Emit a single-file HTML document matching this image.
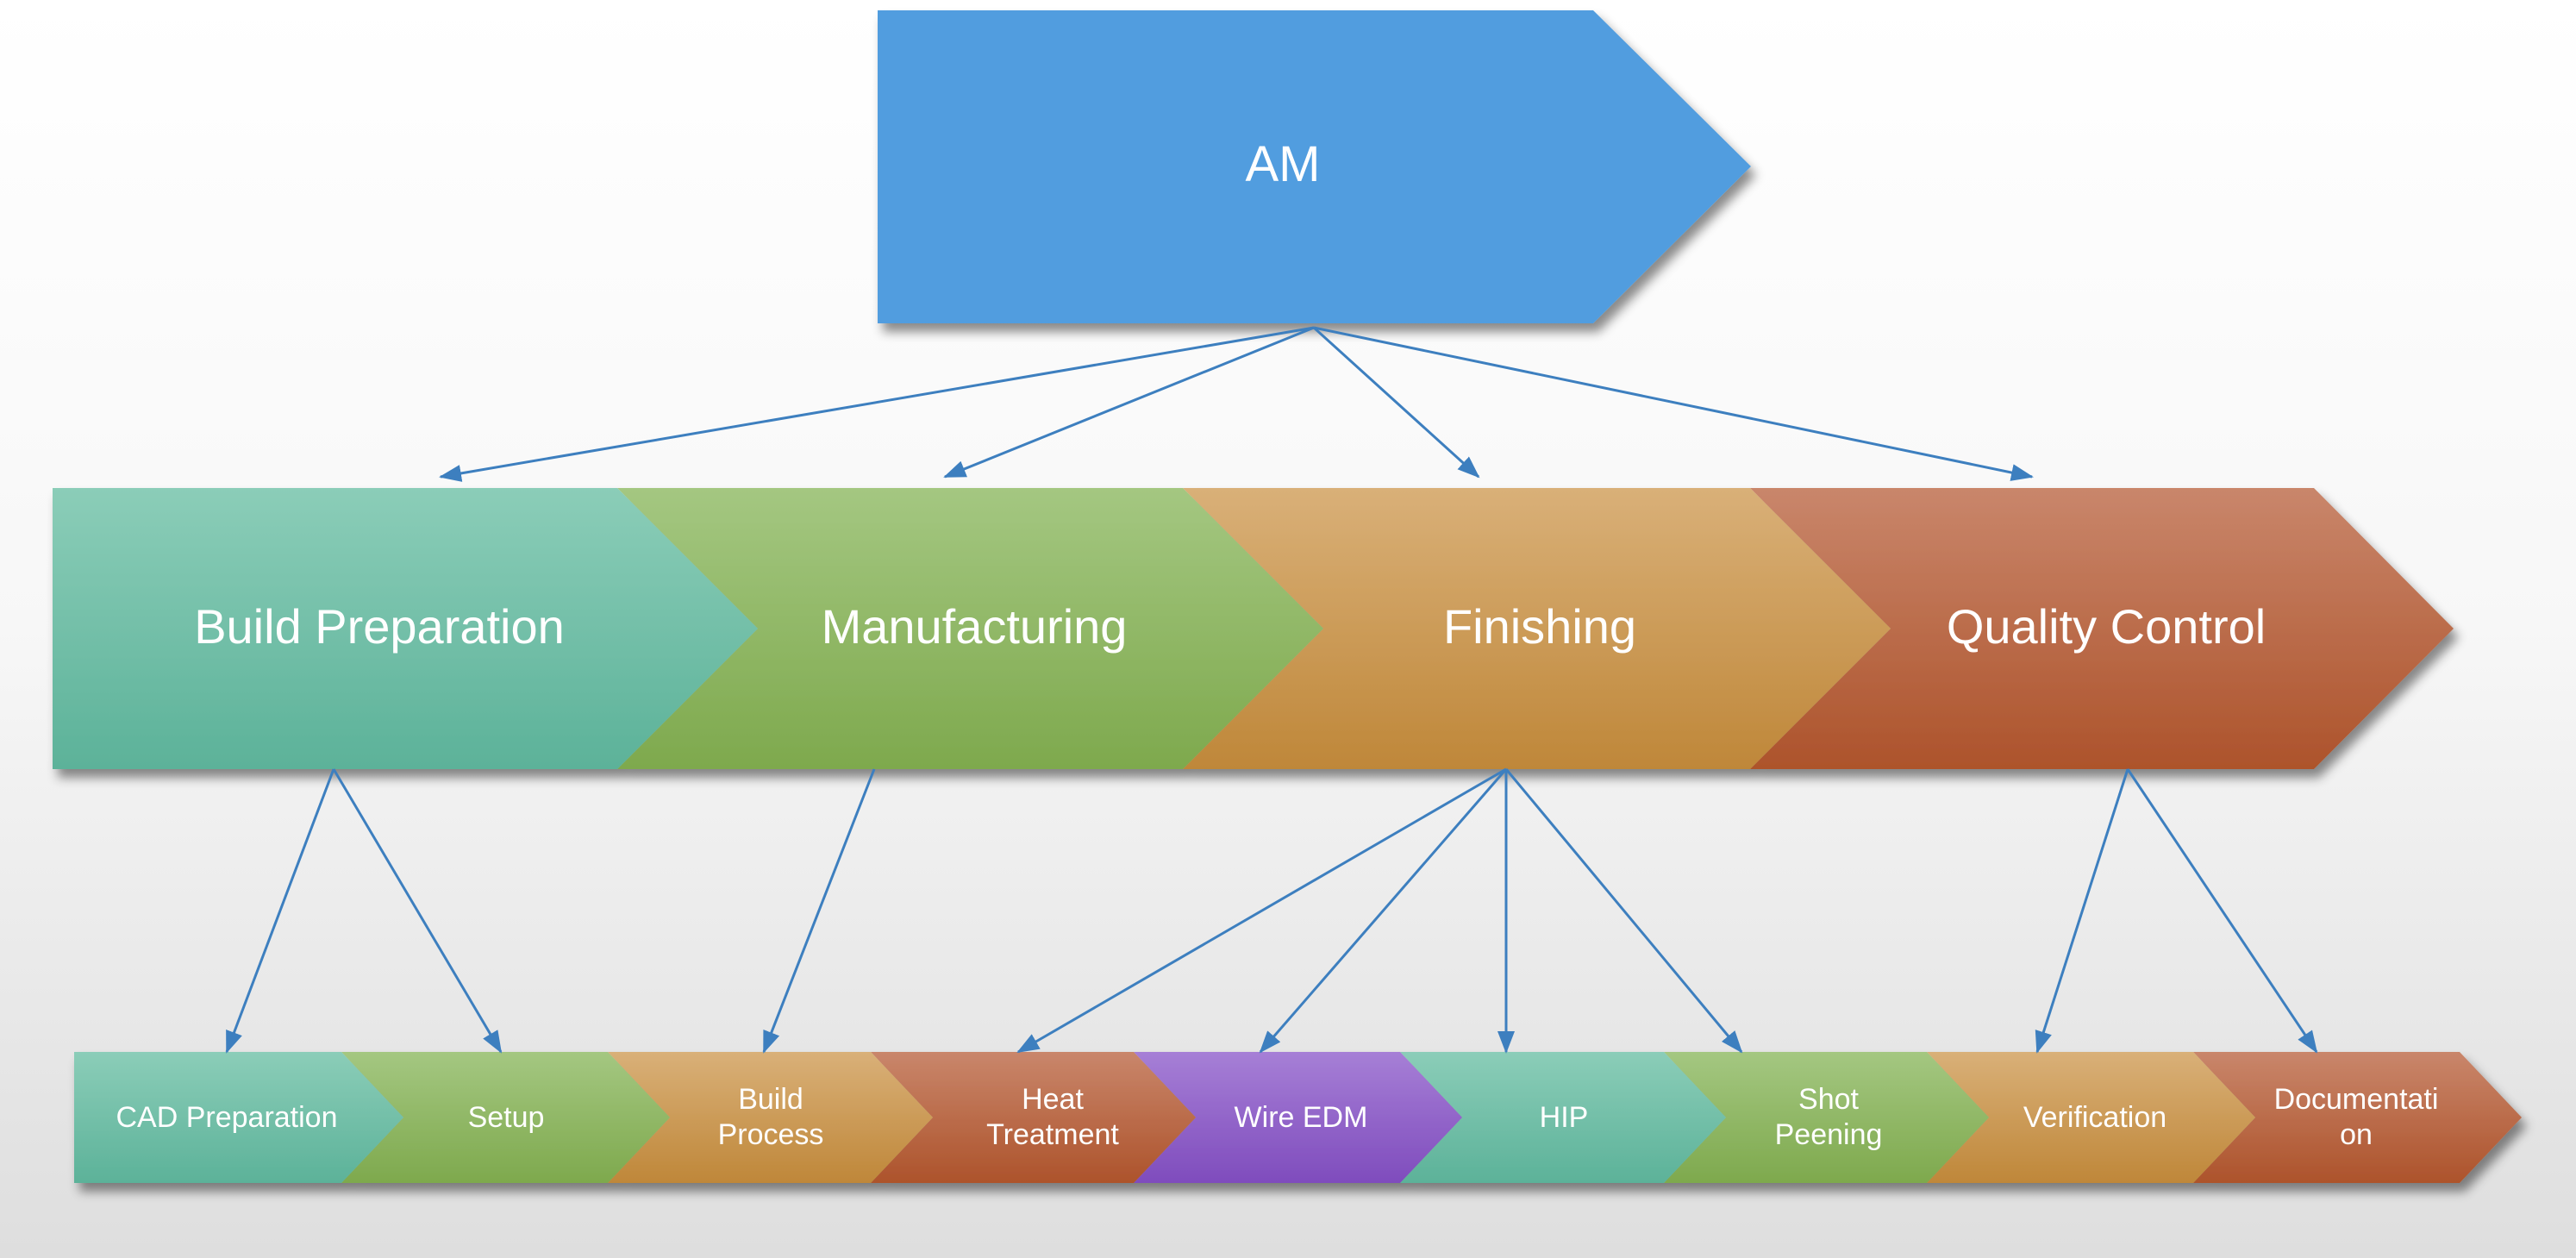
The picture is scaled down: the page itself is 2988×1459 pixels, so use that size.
<!DOCTYPE html>
<html><head><meta charset="utf-8"><style>
html,body{margin:0;padding:0;width:2988px;height:1459px;overflow:hidden}
text{font-family:"Liberation Sans",sans-serif;fill:#fff;text-anchor:middle}
</style></head><body>
<svg width="2988" height="1459" viewBox="0 0 2988 1459" xmlns="http://www.w3.org/2000/svg">
<defs>
<linearGradient id="bg" x1="0" y1="0" x2="0" y2="1"><stop offset="0" stop-color="#ffffff"/><stop offset="0.5" stop-color="#f7f7f7"/><stop offset="1" stop-color="#dedede"/></linearGradient>
<linearGradient id="teal" x1="0" y1="0" x2="0" y2="1"><stop offset="0" stop-color="#8bcdb8"/><stop offset="1" stop-color="#5cb299"/></linearGradient>
<linearGradient id="green" x1="0" y1="0" x2="0" y2="1"><stop offset="0" stop-color="#a4c781"/><stop offset="1" stop-color="#7ea94d"/></linearGradient>
<linearGradient id="orange" x1="0" y1="0" x2="0" y2="1"><stop offset="0" stop-color="#d9b078"/><stop offset="1" stop-color="#bf8739"/></linearGradient>
<linearGradient id="rust" x1="0" y1="0" x2="0" y2="1"><stop offset="0" stop-color="#c9866b"/><stop offset="1" stop-color="#ad532b"/></linearGradient>
<linearGradient id="purple" x1="0" y1="0" x2="0" y2="1"><stop offset="0" stop-color="#a67fd6"/><stop offset="1" stop-color="#7f4cbd"/></linearGradient>
<filter id="sh" x="-5%" y="-10%" width="115%" height="130%"><feDropShadow dx="6" dy="10" stdDeviation="6" flood-color="#000" flood-opacity="0.45"/></filter>
<marker id="ah" markerWidth="10" markerHeight="8" refX="9" refY="4" orient="auto" markerUnits="userSpaceOnUse" viewBox="0 0 10 8"><path d="M0,0 L10,4 L0,8 Z" fill="#3d7fbf" transform="scale(1)"/></marker>
<marker id="a" markerWidth="26" markerHeight="20" refX="24" refY="10" orient="auto" markerUnits="userSpaceOnUse"><path d="M0,0 L26,10 L0,20 Z" fill="#3d7fbf"/></marker>
</defs>
<rect width="2988" height="1459" fill="url(#bg)"/>

<!-- AM -->
<path d="M1018,12 L1848,12 L2031,193 L1848,375 L1018,375 Z" fill="#519ddf" filter="url(#sh)"/>
<text x="1488" y="210" font-size="58">AM</text>

<!-- main row -->
<g filter="url(#sh)">
<path d="M2030,566 L2684,566 L2846,729 L2684,892 L2030,892 L2193,729 Z" fill="url(#rust)"/>
<path d="M1372,566 L2030,566 L2193,729 L2030,892 L1372,892 L1535,729 Z" fill="url(#orange)"/>
<path d="M716,566 L1372,566 L1535,729 L1372,892 L716,892 L879,729 Z" fill="url(#green)"/>
<path d="M61,566 L716,566 L879,729 L716,892 L61,892 Z" fill="url(#teal)"/>
</g>
<text x="440" y="746" font-size="56">Build Preparation</text>
<text x="1130" y="746" font-size="56">Manufacturing</text>
<text x="1786" y="746" font-size="56">Finishing</text>
<text x="2443" y="746" font-size="56">Quality Control</text>

<!-- bottom row -->
<g filter="url(#sh)">
<path d="M2544,1220 L2853,1220 L2925,1296 L2853,1372 L2544,1372 L2616,1296 Z" fill="url(#rust)"/>
<path d="M2235,1220 L2544,1220 L2616,1296 L2544,1372 L2235,1372 L2307,1296 Z" fill="url(#orange)"/>
<path d="M1930,1220 L2235,1220 L2307,1296 L2235,1372 L1930,1372 L2002,1296 Z" fill="url(#green)"/>
<path d="M1624,1220 L1930,1220 L2002,1296 L1930,1372 L1624,1372 L1696,1296 Z" fill="url(#teal)"/>
<path d="M1315,1220 L1624,1220 L1696,1296 L1624,1372 L1315,1372 L1387,1296 Z" fill="url(#purple)"/>
<path d="M1010,1220 L1315,1220 L1387,1296 L1315,1372 L1010,1372 L1082,1296 Z" fill="url(#rust)"/>
<path d="M705,1220 L1010,1220 L1082,1296 L1010,1372 L705,1372 L777,1296 Z" fill="url(#orange)"/>
<path d="M396,1220 L705,1220 L777,1296 L705,1372 L396,1372 L468,1296 Z" fill="url(#green)"/>
<path d="M86,1220 L396,1220 L468,1296 L396,1372 L86,1372 Z" fill="url(#teal)"/>
</g>
<g font-size="34">
<text x="263" y="1307">CAD Preparation</text>
<text x="587" y="1307">Setup</text>
<text x="894" y="1286">Build</text><text x="894" y="1327">Process</text>
<text x="1221" y="1286">Heat</text><text x="1221" y="1327">Treatment</text>
<text x="1509" y="1307">Wire EDM</text>
<text x="1814" y="1307">HIP</text>
<text x="2121" y="1286">Shot</text><text x="2121" y="1327">Peening</text>
<text x="2430" y="1307">Verification</text>
<text x="2733" y="1286">Documentati</text><text x="2733" y="1327">on</text>
</g>

<!-- connectors -->
<g stroke="#3d7fbf" stroke-width="3" fill="none" marker-end="url(#a)">
<line x1="1524" y1="380" x2="511" y2="553"/>
<line x1="1524" y1="380" x2="1096" y2="553"/>
<line x1="1524" y1="380" x2="1715" y2="553"/>
<line x1="1524" y1="380" x2="2357" y2="553"/>
<line x1="387" y1="892" x2="263" y2="1220"/>
<line x1="387" y1="892" x2="581" y2="1220"/>
<line x1="1014" y1="892" x2="886" y2="1220"/>
<line x1="1747" y1="892" x2="1181" y2="1220"/>
<line x1="1747" y1="892" x2="1462" y2="1220"/>
<line x1="1747" y1="892" x2="1747" y2="1220"/>
<line x1="1747" y1="892" x2="2020" y2="1220"/>
<line x1="2468" y1="892" x2="2363" y2="1220"/>
<line x1="2468" y1="892" x2="2687" y2="1220"/>
</g>
</svg>
</body></html>
